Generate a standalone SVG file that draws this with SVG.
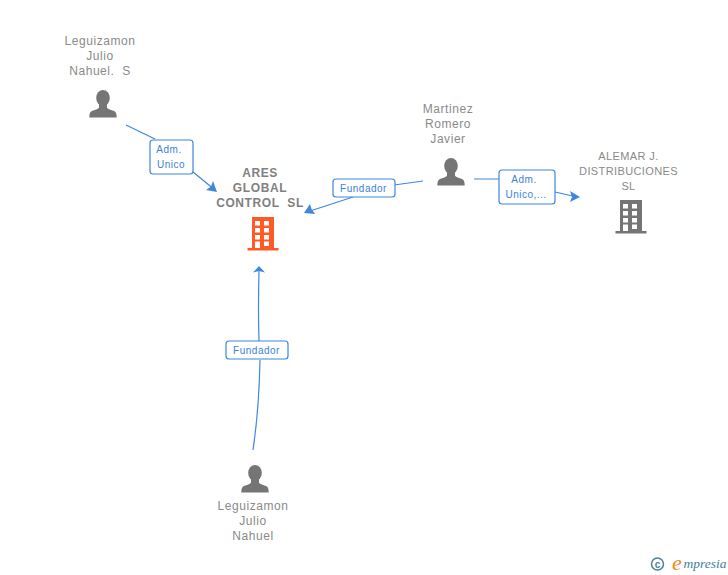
<svg xmlns="http://www.w3.org/2000/svg" width="728" height="575" viewBox="0 0 728 575">
<style>
text{font-family:"Liberation Sans",Arial,sans-serif;text-anchor:middle;white-space:pre}
.n{font-size:12px;fill:#8a8a8a;letter-spacing:.55px}
.u{font-size:11px;fill:#8a8a8a;letter-spacing:.38px}
.c{font-size:12px;fill:#808080;font-weight:bold;letter-spacing:.6px}
.l{font-size:10px;fill:#3b7fdc;letter-spacing:.5px}
.e{fill:none;stroke:#3f86e0;stroke-width:1.2}
.a{fill:#3f86e0;stroke:none}
.b{fill:#fff;stroke:#3f86e0;stroke-width:1.2}
</style>
<defs>
<g id="person"><ellipse fill="#757575" cx="0" cy="-6" rx="6.800" ry="8"/><path fill="#757575" d="M-4 0H4V3.500C5 5.500 9 6 11.500 7.200 13.300 8.200 13.700 10.500 13.700 13.500H-13.700C-13.700 10.500-13.300 8.200-11.500 7.200-9 6-5 5.500-4 3.500z"/></g>
<g id="bld"><path fill-rule="evenodd" d="M-11-17h22v31h4.500v2.500h-31v-2.500h4.500zM-8-13v4.500h5v-4.500zM1-13v4.500h5v-4.500zM-8-6v4.500h5v-4.500zM1-6v4.500h5v-4.500zM-8 1v4.500h5v-4.500zM1 1v4.500h5v-4.500zM-8 7.500v6.500h5v-6.500zM1 7.500v4.500h5v-4.500z"/></g>
</defs>
<g id="connectors">
<path class="e" d="M126 125L155 139M193 172L215 190"/><path class="a" d="M217 192L206 190L211 186.500L213 181z"/>
<path class="e" d="M423 181L394 185M353 197L307 212"/><path class="a" d="M304 213L310 204L311.500 209L315 214z"/>
<path class="e" d="M474 179H499M555 192L577 197"/><path class="a" d="M580 197L570 202L572 197L570 191z"/>
<path class="e" d="M253 450Q259 410 260 360M259 341Q258 310 259 270"/><path class="a" d="M259 266L265 272.500L259 271L253 272.500z"/>
</g>
<g id="label1"><rect class="b" x="150" y="140" width="43" height="34" rx="3"/><text class="l" x="169" y="153">Adm.</text><text class="l" x="171" y="168">Unico</text></g>
<g id="label2"><rect class="b" x="333" y="179" width="62" height="18" rx="3"/><text class="l" x="363.500" y="192">Fundador</text></g>
<g id="label3"><rect class="b" x="499" y="170" width="56" height="34" rx="3"/><text class="l" x="524" y="183">Adm.</text><text class="l" x="526" y="198">Unico,...</text></g>
<g id="label4"><rect class="b" x="226" y="341" width="62" height="18" rx="3"/><text class="l" x="256.500" y="354">Fundador</text></g>
<g id="node-leguizamon-s"><text class="n" x="100" y="45">Leguizamon</text><text class="n" x="100" y="60">Julio</text><text class="n" x="100" y="75">Nahuel.  S</text><use href="#person" x="103" y="104"/></g>
<g id="node-ares"><text class="c" x="260" y="177">ARES</text><text class="c" x="260" y="192">GLOBAL</text><text class="c" x="260" y="207">CONTROL  SL</text><use href="#bld" x="263" y="234" fill="#ff5a26"/></g>
<g id="node-martinez"><text class="n" x="448" y="113">Martinez</text><text class="n" x="448" y="128">Romero</text><text class="n" x="448" y="143">Javier</text><use href="#person" x="451" y="172"/></g>
<g id="node-alemar"><text class="u" x="628.500" y="160">ALEMAR J.</text><text class="u" x="628.500" y="175">DISTRIBUCIONES</text><text class="u" x="628.500" y="190">SL</text><use href="#bld" x="631" y="217" fill="#757575"/></g>
<g id="node-leguizamon"><text class="n" x="253" y="510">Leguizamon</text><text class="n" x="253" y="525">Julio</text><text class="n" x="253" y="540">Nahuel</text><use href="#person" x="255" y="479"/></g>
<g id="watermark"><circle cx="657.500" cy="564" r="6" fill="none" stroke="#4a8296" stroke-width="1.500"/><text x="657.500" y="567.500" style="font-size:10px;font-weight:bold;fill:#4a8296">c</text><text x="677" y="570" style="font-family:'Liberation Serif',serif;font-size:22px;font-style:italic;fill:#f08a1d">e</text><text x="705" y="568" style="font-family:'Liberation Serif',serif;font-size:13.500px;font-style:italic;fill:#3f7f95">mpresia</text></g>
</svg>
